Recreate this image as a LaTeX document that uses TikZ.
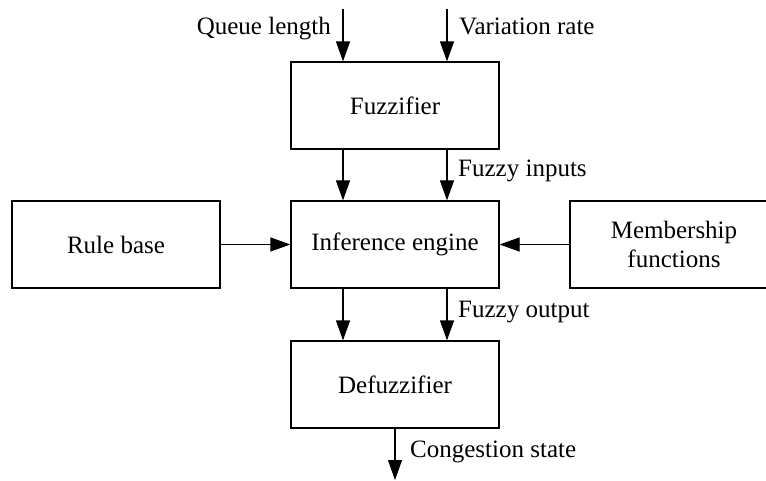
\documentclass[tikz,border=0pt]{standalone}
\usepackage{fontspec}
\setmainfont{Liberation Serif}
\usetikzlibrary{arrows.meta}
\begin{document}
\begin{tikzpicture}[x=1pt,y=-1pt,
 blk/.style={draw, line width=1.2pt, minimum width=208pt, minimum height=87pt, inner sep=0pt, font=\fontsize{25}{29}\selectfont, align=center},
 lbl/.style={inner sep=0pt, font=\fontsize{25}{29}\selectfont},
 arr/.style={line width=1.2pt, -{Triangle[length=20pt,width=14pt]}}]
\useasboundingbox (0,0) rectangle (766,481);
\node[blk] (fuz) at (395,105.5) {Fuzzifier};
\node[blk] (inf) at (395,244.5) {Inference engine};
\node[blk] (def) at (395,384.5) {Defuzzifier};
\node[blk] (rule) at (116,244.5) {Rule base};
\node[blk] (mem) at (674,244.5) {Membership\\functions};
\coordinate (q) at (343,9);
\coordinate (v) at (447,9);
\coordinate (c) at (395,480);
\draw[arr] (q) -- (q |- fuz.north);
\draw[arr] (v) -- (v |- fuz.north);
\draw[arr] ([xshift=-52pt]fuz.south) -- ([xshift=-52pt]inf.north);
\draw[arr] ([xshift=52pt]fuz.south) -- ([xshift=52pt]inf.north);
\draw[arr] ([xshift=-52pt]inf.south) -- ([xshift=-52pt]def.north);
\draw[arr] ([xshift=52pt]inf.south) -- ([xshift=52pt]def.north);
\draw[arr] (rule.east) -- (inf.west);
\draw[arr] (mem.west) -- (inf.east);
\draw[arr] (def.south) -- (c);
\node[lbl, anchor=base east] (ql) at (331,35) {Queue length};
\node[lbl, anchor=base west] (vr) at (459,35) {Variation rate};
\node[lbl, anchor=base west] (fi) at (458,177) {Fuzzy inputs};
\node[lbl, anchor=base west] (fo) at (458,317) {Fuzzy output};
\node[lbl, anchor=base west] (cs) at (410,457) {Congestion state};
\end{tikzpicture}
\end{document}
